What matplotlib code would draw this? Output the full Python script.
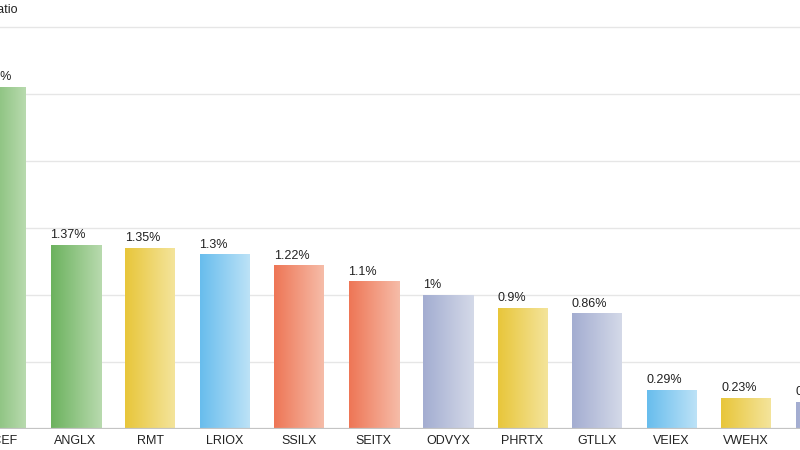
import matplotlib
matplotlib.use("Agg")
import matplotlib.pyplot as plt
import numpy as np

funds = ["PCEF", "ANGLX", "RMT", "LRIOX", "SSILX", "SEITX", "ODVYX", "PHRTX", "GTLLX", "VEIEX", "VWEHX", "VTEB"]
ratios = [2.55, 1.37, 1.35, 1.3, 1.22, 1.1, 1.0, 0.9, 0.86, 0.29, 0.23, 0.2]
labels = ["2.55%", "1.37%", "1.35%", "1.3%", "1.22%", "1.1%", "1%", "0.9%", "0.86%", "0.29%", "0.23%", "0.2%"]
color_keys = ["green", "green", "yellow", "blue", "red", "red", "purple", "yellow", "purple", "blue", "yellow", "purple"]

# left (dark) -> right (light) gradient colours
palette = {
    "green": ((108, 178, 94), (184, 218, 174)),
    "yellow": ((232, 198, 58), (244, 228, 155)),
    "blue": ((104, 189, 237), (188, 226, 247)),
    "red": ((238, 118, 86), (246, 188, 168)),
    "purple": ((163, 173, 209), (212, 217, 232)),
}

W, H = 800, 450
fig = plt.figure(figsize=(W / 100, H / 100), dpi=100)
ax = fig.add_axes([0, 21 / H, 1, 429 / H])

step = 74.5
x = np.arange(len(funds))
bw = 50 / step

for yv in np.arange(0.5, 3.01, 0.5):
    ax.axhline(yv, color="#e6e6e6", lw=1, zorder=0)
ax.axhline(0, color="#c4c4c4", lw=1.6, zorder=3)

bars = ax.bar(x, ratios, width=bw, color="none", edgecolor="none", zorder=2)
for b, key, lab in zip(bars, color_keys, labels):
    c0, c1 = palette[key]
    t = np.linspace(0, 1, 64)
    grad = np.array([[tuple((a + (bb - a) * tt) / 255 for a, bb in zip(c0, c1)) for tt in t]])
    x0 = b.get_x()
    x1 = x0 + b.get_width()
    h = b.get_height()
    ax.imshow(grad, extent=[x0, x1, 0, h], aspect="auto", interpolation="bilinear", zorder=2)
    ax.text(x0, h + 4 / 134, lab, ha="left", va="bottom", fontsize=9, color="#222222",
            family="Liberation Sans", zorder=4)

ax.set_xlim(-1 / step, (W - 1) / step)
ax.set_ylim(0, 429 / 134)

for xi, f in zip(x, funds):
    ax.text(xi, -12 / 134, f, ha="center", va="center", fontsize=9, color="#222222",
            family="Liberation Sans", clip_on=False)

fig.text(17 / W, 1 - 10 / H, "Expense Ratio", ha="right", va="center", fontsize=9,
         color="#222222", family="Liberation Sans")

ax.set_axis_off()
fig.savefig("out.png", dpi=100)
